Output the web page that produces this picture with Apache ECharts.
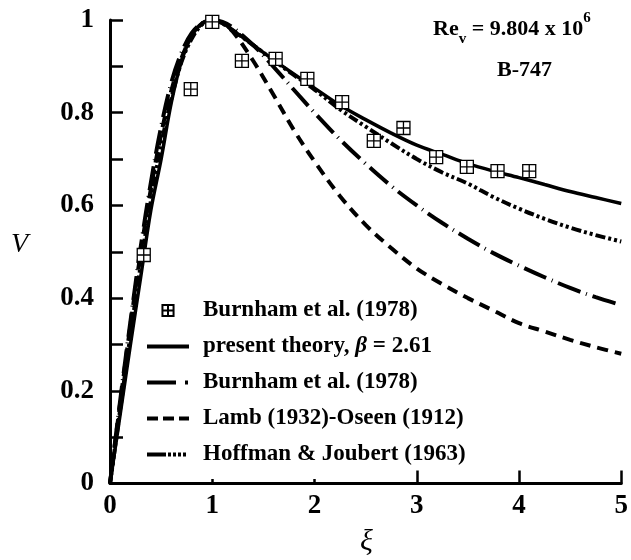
<!DOCTYPE html>
<html><head><meta charset="utf-8">
<script src="https://cdn.jsdelivr.net/npm/echarts@6/dist/echarts.min.js"></script>
<style>html,body{margin:0;padding:0;background:#fff}#c{width:631px;height:560px}</style>
</head><body><div id="c"></div>
<script>
// ---- data ----
const xi = [0,0.1,0.2,0.3,0.4,0.5,0.6,0.7,0.8,0.9,1.0,1.1,1.2,1.4,1.6,1.8,2.0,2.25,2.5,2.75,3.0,3.25,3.5,3.75,4.0,4.25,4.5,4.75,5.0];
const presentTheory = [0,0.15,0.30,0.445,0.59,0.70,0.822,0.912,0.966,0.993,1.0,0.993,0.978,0.946,0.914,0.883,0.853,0.816,0.785,0.756,0.73,0.71,0.69,0.674,0.66,0.645,0.63,0.617,0.604];
const burnhamLine = [0,0.18,0.35,0.51,0.65,0.77,0.865,0.93,0.972,0.993,1.0,0.996,0.984,0.946,0.899,0.849,0.80,0.742,0.69,0.642,0.60,0.562,0.528,0.497,0.47,0.445,0.422,0.402,0.385];
const lambOseen = [0,0.175,0.342,0.498,0.636,0.754,0.848,0.918,0.965,0.992,1.0,0.993,0.975,0.912,0.838,0.762,0.695,0.62,0.558,0.508,0.464,0.43,0.4,0.373,0.346,0.328,0.31,0.294,0.28];
const hoffmanJoubert = [0,0.16,0.32,0.47,0.61,0.73,0.83,0.91,0.96,0.99,1.0,0.993,0.978,0.946,0.913,0.881,0.85,0.807,0.77,0.734,0.70,0.671,0.647,0.618,0.593,0.571,0.552,0.536,0.522];
const burnhamDataX = [0.33,0.79,1.0,1.29,1.62,1.93,2.27,2.58,2.87,3.19,3.49,3.79,4.1];
const burnhamDataY = [0.493,0.851,0.996,0.912,0.916,0.873,0.823,0.739,0.767,0.704,0.683,0.674,0.674];
const xTicks = [0,1,2,3,4,5];
const yTicks = [0,0.2,0.4,0.6,0.8,1];

const SERIF = '"Liberation Serif","Times New Roman",serif';
const pairs = (xs, ys) => xs.map((x, i) => [x, ys[i]]);
const SQ = 'path://M0,0H10V10H0Z M5,0V10 M0,5H10';
const SQ_LEG = 'path://M-4,-4 M14,14 M0,0H10V10H0Z M5,0V10 M0,5H10';

const names = {
  pts: 'Burnham et al. (1978)',
  pt: 'present theory, \u03B2 = 2.61',
  bl: 'Burnham et al. (1978) ',
  lo: 'Lamb (1932)-Oseen (1912)',
  hj: 'Hoffman & Joubert (1963)'
};

function lineSeries(name, ys, type, width) {
  return {
    name, type: 'line', data: pairs(xi, ys), symbol: 'none', smooth: 0.35,
    lineStyle: { color: '#000', width: width, type: type, cap: 'butt' },
    itemStyle: { color: '#000' }, z: 2
  };
}
const hideSym = { color: 'rgba(0,0,0,0)', borderWidth: 0, opacity: 0 };
const legLine = t => ({ color: '#000', width: 4, type: t, cap: 'butt', opacity: 1 });

const chart = echarts.init(document.getElementById('c'), null, { renderer: 'canvas' });
chart.setOption({
  animation: false,
  backgroundColor: '#fff',
  grid: { left: 110, right: 5, top: 20, bottom: 76.5, containLabel: false },
  xAxis: {
    type: 'value', min: 0, max: 5, interval: 1,
    axisLine: { show: true, onZero: false, lineStyle: { color: '#000', width: 3 } },
    axisTick: { show: true, inside: true, length: 13, lineStyle: { color: '#000', width: 2.5 } },
    splitLine: { show: false },
    axisLabel: { color: '#000', fontFamily: SERIF, fontWeight: 'bold', fontSize: 27, margin: 9,
      formatter: v => xTicks.includes(v) ? String(v) : '' }
  },
  yAxis: {
    type: 'value', min: 0, max: 1, interval: 0.2,
    axisLine: { show: true, onZero: false, lineStyle: { color: '#000', width: 3 } },
    axisTick: { show: true, inside: true, length: 13, lineStyle: { color: '#000', width: 2.5 } },
    minorTick: { show: true, splitNumber: 2, length: 13, lineStyle: { color: '#000', width: 2.5 } },
    splitLine: { show: false }, minorSplitLine: { show: false },
    axisLabel: { color: '#000', fontFamily: SERIF, fontWeight: 'bold', fontSize: 27, margin: 16,
      formatter: v => { const t = yTicks.find(k => Math.abs(k - v) < 1e-9); return t === undefined ? '' : (t === 0 || t === 1 ? String(t) : t.toFixed(1)); } }
  },
  legend: {
    orient: 'vertical', left: 145, top: 299, padding: 0,
    itemWidth: 42, itemHeight: 20, itemGap: 13,
    selectedMode: false, z: 10,
    data: [
      { name: names.pts, icon: SQ_LEG },
      { name: names.pt, itemStyle: hideSym, lineStyle: legLine('solid') },
      { name: names.bl, itemStyle: hideSym, lineStyle: legLine([29, 9, 3, 20]) },
      { name: names.lo, itemStyle: hideSym, lineStyle: legLine([11, 5, 11, 5, 11, 20]) },
      { name: names.hj, itemStyle: hideSym, lineStyle: legLine([19, 2, 3, 2, 3, 2, 3, 2, 3, 20]) }
    ],
    textStyle: { color: '#000', fontFamily: SERIF, fontWeight: 'bold', fontSize: 23, padding: [0, 0, 0, 9],
      rich: {
        t: { color: '#000', fontFamily: SERIF, fontWeight: 'bold', fontSize: 23 },
        i: { color: '#000', fontFamily: SERIF, fontWeight: 'bold', fontStyle: 'italic', fontSize: 23 }
      } },
    formatter: n => n.indexOf('\u03B2') >= 0 ? '{t|present theory, }{i|\u03B2}{t| = 2.61}' : '{t|' + n.trim() + '}'
  },
  graphic: [
    { type: 'rect', z: 1, silent: true, shape: { x: 140, y: 292, width: 240, height: 187 }, style: { fill: '#fff' } },
    { type: 'text', left: 433, top: 11, z: 5,
      style: { text: '{b|Re}{s|v}{b| = 9.804 x 10}{u|6}', rich: {
        b: { fontFamily: SERIF, fontWeight: 'bold', fontSize: 22, fill: '#000', lineHeight: 36, verticalAlign: 'middle' },
        s: { fontFamily: SERIF, fontWeight: 'bold', fontSize: 15, fill: '#000', lineHeight: 36, verticalAlign: 'bottom' },
        u: { fontFamily: SERIF, fontWeight: 'bold', fontSize: 15, fill: '#000', lineHeight: 36, verticalAlign: 'top' }
      } } },
    { type: 'text', left: 497, top: 59, z: 5,
      style: { text: 'B-747', fontFamily: SERIF, fontWeight: 'bold', fontSize: 22, fill: '#000' } },
    { type: 'text', left: 11, top: 231, z: 5,
      style: { text: 'V', fontFamily: SERIF, fontStyle: 'italic', fontSize: 28, fill: '#000' } },
    { type: 'text', left: 360, top: 527, z: 5,
      style: { text: '\u03BE', fontFamily: SERIF, fontStyle: 'italic', fontSize: 30, fill: '#000' } }
  ],
  series: [
    lineSeries(names.pt, presentTheory, 'solid', 3.5),
    lineSeries(names.bl, burnhamLine, [24, 6, 1, 6], 4),
    lineSeries(names.lo, lambOseen, [11, 7], 4),
    lineSeries(names.hj, hoffmanJoubert, [10, 3, 3, 3, 3, 3], 4),
    {
      name: names.pts, type: 'scatter', data: pairs(burnhamDataX, burnhamDataY),
      symbol: SQ, symbolSize: 13, z: 5,
      itemStyle: { color: '#fff', borderColor: '#000', borderWidth: 1.3, opacity: 1 }
    }
  ]
});
</script>
</body></html>
